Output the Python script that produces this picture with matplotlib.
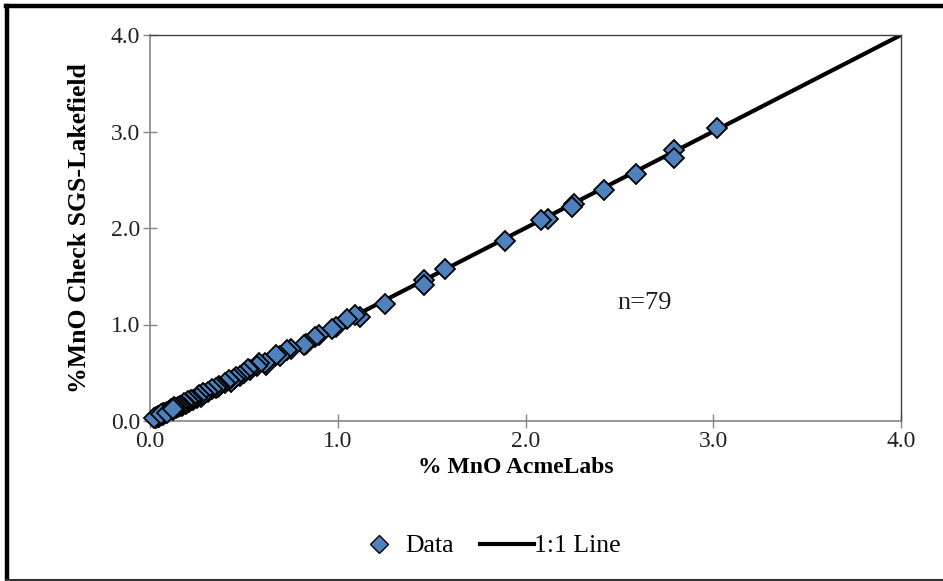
import numpy as np
import matplotlib
matplotlib.use('Agg')
import matplotlib.pyplot as plt
from matplotlib.lines import Line2D

plt.rcParams['font.family'] = ['Liberation Serif', 'DejaVu Serif']

W, H = 943, 581
DPI = 100

# Data (AcmeLabs vs SGS-Lakefield, % MnO)
acme = [3.02, 2.79, 2.79, 2.59, 2.42, 2.26, 2.25, 2.12, 2.08, 1.89,
        1.57, 1.46, 1.46, 1.25, 1.12,
        1.09, 1.05, 0.99, 0.97, 0.90, 0.88, 0.83, 0.82, 0.75, 0.73,
        0.69, 0.67, 0.62, 0.61, 0.58, 0.57, 0.53, 0.52, 0.50, 0.48,
        0.46, 0.45, 0.43, 0.42, 0.40, 0.37, 0.36, 0.35, 0.33, 0.31,
        0.29, 0.28, 0.27, 0.26, 0.25, 0.23, 0.22, 0.21, 0.20, 0.19,
        0.18, 0.17, 0.16, 0.15, 0.14, 0.13, 0.12, 0.11, 0.10, 0.09,
        0.08, 0.07, 0.07, 0.06, 0.05, 0.05, 0.04, 0.04, 0.03, 0.03,
        0.02, 0.06, 0.09, 0.12]
sgs = [3.04, 2.81, 2.73, 2.56, 2.39, 2.25, 2.22, 2.09, 2.08, 1.87,
       1.57, 1.46, 1.41, 1.21, 1.08,
       1.10, 1.06, 0.97, 0.95, 0.89, 0.87, 0.80, 0.79, 0.75, 0.74,
       0.67, 0.68, 0.58, 0.60, 0.60, 0.57, 0.53, 0.54, 0.50, 0.47,
       0.46, 0.44, 0.40, 0.42, 0.39, 0.36, 0.35, 0.34, 0.33, 0.30,
       0.28, 0.29, 0.25, 0.27, 0.24, 0.22, 0.22, 0.20, 0.21, 0.18,
       0.19, 0.16, 0.16, 0.15, 0.13, 0.14, 0.11, 0.12, 0.10, 0.09,
       0.08, 0.08, 0.06, 0.06, 0.05, 0.04, 0.05, 0.04, 0.03, 0.04,
       0.03, 0.07, 0.08, 0.12]

one_to_one = [0.0, 4.0]
ticks = [0.0, 1.0, 2.0, 3.0, 4.0]
n_label = 'n=79'

fig = plt.figure(figsize=(W / DPI, H / DPI), dpi=DPI)
ax = fig.add_axes([150 / W, 1 - 421 / H, (901 - 150) / W, (421 - 35) / H])

ax.plot(one_to_one, one_to_one, '-', color='black', lw=3, zorder=2,
        solid_capstyle='butt')
ax.plot(acme, sgs, 'D', ms=10, mfc='#4F81BD', mec='black', mew=1.3,
        ls='none', zorder=3, clip_on=False)

ax.set_xlim(0, 4)
ax.set_ylim(0, 4)
ax.set_xticks(ticks)
ax.set_yticks(ticks)
ax.set_xticklabels(['%.1f' % t for t in ticks])
ax.set_yticklabels(['%.1f' % t for t in ticks])
ax.tick_params(direction='inout', length=10, width=1, color='#868686',
               labelsize=17, labelcolor='#222222', pad=2)

for s in ['left', 'bottom']:
    ax.spines[s].set_color('#868686')
    ax.spines[s].set_linewidth(1.2)
for s in ['top', 'right']:
    ax.spines[s].set_color('#404040')
    ax.spines[s].set_linewidth(1.0)

ax.set_xlabel('% MnO AcmeLabs', fontsize=17, fontweight='bold', labelpad=4)
ax.xaxis.set_label_coords(0.487, -0.093)
ax.set_ylabel('%MnO Check SGS-Lakefield', fontsize=18.5, fontweight='bold',
              labelpad=14)

ax.text(2.49, 1.16, n_label, fontsize=19, color='#222222', va='baseline')

handles = [Line2D([], [], marker='D', ls='none', ms=9, mfc='#4F81BD',
                  mec='black', mew=1.0),
           Line2D([], [], color='black', lw=3)]
fig.legend(handles, ['Data', '1:1 Line'], loc='center',
           bbox_to_anchor=(486 / W, 1 - 546 / H), ncol=2, frameon=False,
           fontsize=18.5, handlelength=2.1, handletextpad=0.0,
           columnspacing=1.0)

# outer chart frame (left/top thick, bottom thin)
fig.add_artist(Line2D([7.5 / W, 7.5 / W], [0, 1 - 5.5 / H], color='black',
                      lw=3.2, transform=fig.transFigure))
fig.add_artist(Line2D([5.5 / W, 1], [1 - 5.5 / H, 1 - 5.5 / H],
                      color='black', lw=3.2, transform=fig.transFigure))
fig.add_artist(Line2D([5.5 / W, 1], [1.5 / H, 1.5 / H], color='#333333',
                      lw=1.5, transform=fig.transFigure))

fig.savefig('out.png', dpi=DPI)
